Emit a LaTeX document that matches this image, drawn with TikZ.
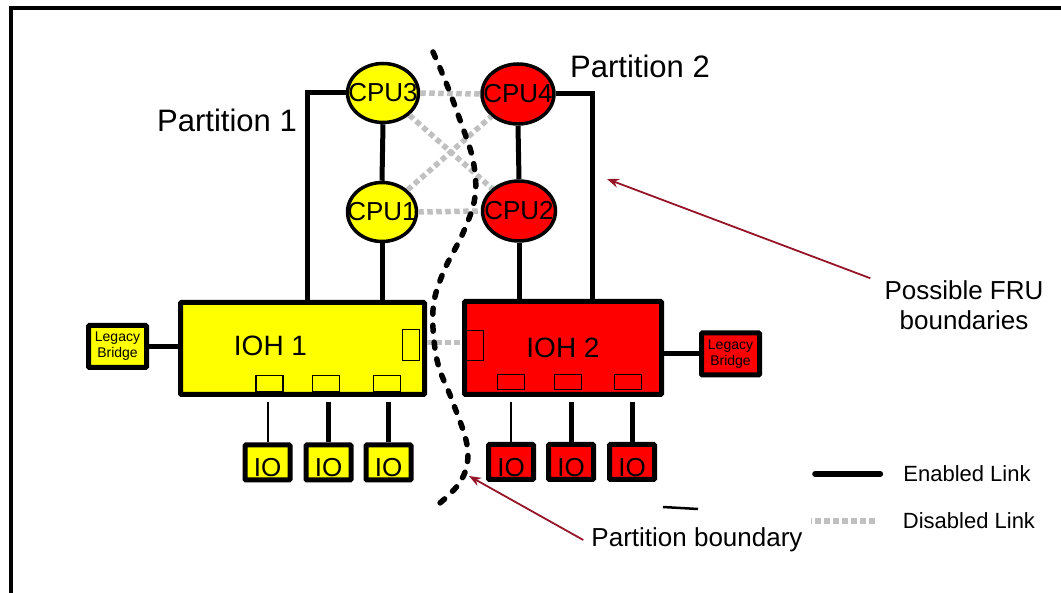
\documentclass[tikz,border=0pt]{standalone}
\usepackage{fontspec}
\setmainfont{Liberation Sans}
\usetikzlibrary{arrows.meta,shapes.geometric,calc}
\definecolor{ioyellow}{RGB}{255,255,0}
\definecolor{iored}{RGB}{255,0,0}
\definecolor{linkgray}{RGB}{192,192,192}
\definecolor{arrowline}{RGB}{150,20,40}
\definecolor{arrowfill}{RGB}{232,10,50}
\tikzset{
  link/.style={line width=5pt,draw=black},
  thinlink/.style={line width=2pt,draw=black},
  offlink/.style={line width=5.5pt,draw=linkgray,dash pattern=on 5.5pt off 3.5pt},
  cpu/.style={ellipse,draw,line width=3.5pt,inner sep=0pt,font=\fontsize{26}{26}\selectfont},
  ioh/.style={draw,line width=5pt,rounded corners=1pt,inner sep=0pt,font=\fontsize{28}{28}\selectfont},
  port/.style={draw,line width=1.8pt,inner sep=0pt},
  iobox/.style={draw,line width=5pt,rounded corners=1pt,minimum width=45pt,minimum height=35pt,inner sep=0pt,text height=29pt,text depth=0pt,font=\fontsize{26}{26}\selectfont},
  bridge/.style={draw,line width=5pt,rounded corners=1pt,minimum width=58pt,minimum height=42pt,inner sep=0pt,align=center,font=\fontsize{14}{16}\selectfont},
  note/.style={font=\fontsize{26}{30}\selectfont,align=center,inner sep=2pt},
  legend/.style={font=\fontsize{22}{22}\selectfont,inner sep=2pt},
  part/.style={font=\fontsize{31}{31}\selectfont},
  callout/.style={-{Stealth[length=12pt,width=9pt,fill=arrowfill]},line width=1.8pt,draw=arrowline},
  boundary/.style={line width=5.5pt,line cap=round,dash pattern=on 6pt off 11pt}
}

\begin{document}
\begin{tikzpicture}[x=1pt,y=-1pt]
  \useasboundingbox (0,0) rectangle (1061,593);
  \draw[line width=3.5pt] (1061,8) -- (11,8) -- (11,593);

  % processors
  \node[cpu,fill=ioyellow,minimum width=71pt,minimum height=59pt] (cpu3) at (383,93) {\makebox[0pt]{CPU3}};
  \node[cpu,fill=iored,minimum width=72pt,minimum height=60pt] (cpu4) at (518,94) {\makebox[0pt]{CPU4}};
  \node[cpu,fill=ioyellow,minimum width=69pt,minimum height=59pt] (cpu1) at (382,212) {\makebox[0pt]{CPU1}};
  \node[cpu,fill=iored,minimum width=73pt,minimum height=60pt] (cpu2) at (519,211) {\makebox[0pt]{CPU2}};

  % hubs with their ports
  \node[ioh,fill=ioyellow,minimum width=244pt,minimum height=92pt,
        label={[font=\fontsize{28}{28}\selectfont,xshift=-32pt,yshift=3pt]center:IOH 1}] (ioh1) at (302.5,348.5) {};
  \node[ioh,fill=iored,minimum width=197pt,minimum height=93pt] (ioh2) at (563,348) {IOH 2};
  \node[port,minimum width=17pt,minimum height=31pt] (v1) at (411,345) {};
  \node[port,minimum width=17pt,minimum height=30pt] (v2) at (475,345.5) {};
  \foreach \x [count=\i] in {269.5,326,387}{
    \node[port,minimum width=27pt,minimum height=16pt] (p1\i) at (\x,383.5) {};}
  \foreach \x [count=\i] in {511,568,628}{
    \node[port,minimum width=27pt,minimum height=15pt] (p2\i) at (\x,382) {};}

  % io devices and bridges
  \foreach \x [count=\i] in {267.5,328.5,388.5}{
    \node[iobox,fill=ioyellow] (io1\i) at (\x,462.5) {IO};}
  \foreach \x [count=\i] in {511,571,632}{
    \node[iobox,fill=iored] (io2\i) at (\x,462) {IO};}
  \node[bridge,fill=ioyellow] (lb1) at (117.5,346.5) {Legacy\\Bridge};
  \node[bridge,fill=iored] (lb2) at (730.5,354) {Legacy\\Bridge};

  % enabled links
  \draw[link] (cpu3.west) -| ([xshift=4.5pt]ioh1.north);
  \draw[link] (cpu3.south) -- (cpu1.north);
  \draw[link] (cpu1.south) -- (cpu1.south |- ioh1.north);
  \draw[link] (cpu4.east) -| ([xshift=29pt]ioh2.north);
  \draw[link] (cpu4.south) -- (cpu2.north);
  \draw[link] (cpu2.south) -- (cpu2.south |- ioh2.north);
  \draw[link] (lb1.east) -- (lb1.east -| ioh1.west);
  \draw[link] (lb2.west) -- (lb2.west -| ioh2.east);
  \draw[thinlink,shorten >=5pt] (io11.north) -- (io11.north |- ioh1.south);
  \draw[link,shorten >=5pt] (io12.north) -- (io12.north |- ioh1.south);
  \draw[link,shorten >=5pt] (io13.north) -- (io13.north |- ioh1.south);
  \draw[thinlink,shorten >=5pt] (io21.north) -- (io21.north |- ioh2.south);
  \draw[link,shorten >=5pt] (io22.north) -- (io22.north |- ioh2.south);
  \draw[link,shorten >=5pt] (io23.north) -- (io23.north |- ioh2.south);

  % disabled links
  \draw[offlink] (cpu3.east) -- (cpu4.west);
  \draw[offlink] (cpu1.east) -- (cpu2.west);
  \draw[offlink] (cpu3.south east) -- (cpu2.north west);
  \draw[offlink] (cpu1.north east) -- (cpu4.south west);
  \draw[offlink] ([yshift=6pt]ioh1.east) -- ([yshift=6pt]ioh1.east -| ioh2.west);

  % partition boundary
  \draw[boundary] plot[smooth,tension=0.6] coordinates {(433,52) (445,80) (460,120) (473,160) (475,197) (463,233) (443,273) (433,310) (437,360) (452,400) (466,440) (467,465) (458,485) (440,503)};
  \draw[line width=2.5pt] (663,507) -- (698,509);

  % labels
  \node[part] (part1) at (227,120) {Partition 1};
  \node[part] (part2) at (640,66) {Partition 2};
  \node[note] (fru) at (964,305) {Possible FRU\\boundaries};
  \node[note] (pb) at (697,540) {Partition boundary};
  \coordinate (frutip) at (607,179);
  \coordinate (pbtip) at (469,476);
  \draw[callout] ([xshift=-12pt]fru.north west) -- (frutip);
  \draw[callout] ([xshift=-6pt]pb.west) -- (pbtip);

  % legend
  \node[legend] (en) at (967,474) {Enabled Link};
  \node[legend] (dis) at (969,521) {Disabled Link};
  \draw[link,line width=6pt,line cap=round] ([xshift=-21pt]en.west) -- ([xshift=-86pt]en.west);
  \draw[offlink] ([xshift=-26pt]dis.west) -- ([xshift=-90pt]dis.west);
\end{tikzpicture}
\end{document}
